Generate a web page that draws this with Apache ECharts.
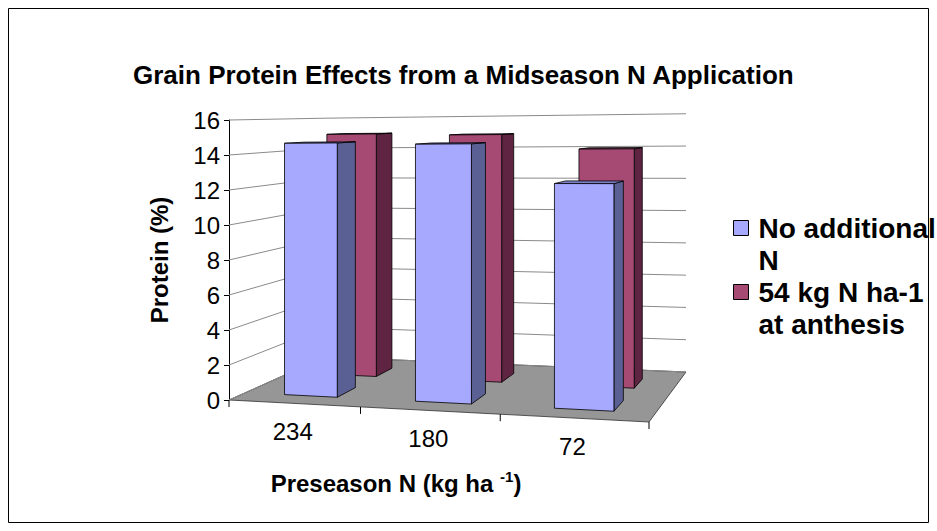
<!DOCTYPE html>
<html>
<head>
<meta charset="utf-8">
<script src="https://cdn.jsdelivr.net/npm/echarts@6/dist/echarts.min.js"></script>
<style>html,body{margin:0;padding:0;background:#fff}#c{width:937px;height:531px}</style>
</head>
<body>
<div id="c"></div>
<script>
// ---------------- data ----------------
const categories = ['234', '180', '72'];
const seriesNames = ['No additional N', '54 kg N ha-1 at anthesis'];
const noAdditionalN = [14.6, 14.5, 12.3];
const atAnthesis54 = [15.0, 14.9, 14.0];
const yTicks = [0, 2, 4, 6, 8, 10, 12, 14, 16];
const legendLabels = {'No additional N': 'No additional\nN', '54 kg N ha-1 at anthesis': '54 kg N ha-1\nat anthesis'};
const titleText = 'Grain Protein Effects from a Midseason N Application';
const yName = 'Protein (%)';

// ---------------- layout / style ----------------
const FONT = 'Liberation Sans, Arial, Helvetica, sans-serif';
const GRID = {left: 229, top: 120, width: 420, height: 280};
// floor quad corners: front-left, front-right, back-right, back-left
const FLOOR = [[229, 400], [649, 422], [686, 372], [325, 357]];
const ROWS = [{w0: 0.15, w1: 0.35}, {w0: 0.6, w1: 0.8}];
const BAR = {widthRatio: 0.41, shift: 0.005};
const COLORS = [
  {front: '#A6A9FD', side: '#5B6094', top: '#7C80C8'},
  {front: '#A64A74', side: '#5E2442', top: '#7F3457'}
];

function homography(q) {
  const [x0, y0] = q[0], [x1, y1] = q[1], [x2, y2] = q[2], [x3, y3] = q[3];
  const dx1 = x1 - x2, dx2 = x3 - x2, dx3 = x0 - x1 + x2 - x3;
  const dy1 = y1 - y2, dy2 = y3 - y2, dy3 = y0 - y1 + y2 - y3;
  const den = dx1 * dy2 - dx2 * dy1;
  const g = (dx3 * dy2 - dx2 * dy3) / den, h = (dx1 * dy3 - dx3 * dy1) / den;
  return {a: x1 - x0 + g * x1, b: x3 - x0 + h * x3, c: x0,
          d: y1 - y0 + g * y1, e: y3 - y0 + h * y3, f: y0, g: g, h: h};
}
const HM = homography(FLOOR);
function project(u, v, w, hgt) {
  const D = HM.g * u + HM.h * w + 1;
  const x = (HM.a * u + HM.b * w + HM.c) / D;
  const y = (HM.d * u + HM.e * w + HM.f) / D - v * hgt / D;
  return [x, y];
}

function barRenderer(rowIdx) {
  return function (params, api) {
    const cs = params.coordSys;
    const i = api.value(0), val = api.value(1);
    const p0 = api.coord([i, 0]), p1 = api.coord([i, val]);
    const band = api.size([1, 0])[0] / cs.width;
    const uc = (p0[0] - cs.x) / cs.width + BAR.shift;
    const hw = band * BAR.widthRatio / 2;
    const v = (p0[1] - p1[1]) / cs.height;
    const u0 = uc - hw, u1 = uc + hw, w0 = ROWS[rowIdx].w0, w1 = ROWS[rowIdx].w1;
    const P = (u, vv, w) => project(u, vv, w, cs.height);
    const c = COLORS[rowIdx];
    const stroke = {stroke: '#000', lineWidth: 0.8, lineJoin: 'round'};
    return {
      type: 'group',
      children: [
        {type: 'polygon', shape: {points: [P(u1, 0, w0), P(u1, 0, w1), P(u1, v, w1), P(u1, v, w0)]},
         style: Object.assign({fill: c.side}, stroke)},
        {type: 'polygon', shape: {points: [P(u0, v, w0), P(u1, v, w0), P(u1, v, w1), P(u0, v, w1)]},
         style: Object.assign({fill: c.top}, stroke)},
        {type: 'polygon', shape: {points: [P(u0, 0, w0), P(u1, 0, w0), P(u1, v, w0), P(u0, v, w0)]},
         style: Object.assign({fill: c.front}, stroke)}
      ]
    };
  };
}

const chart = echarts.init(document.getElementById('c'), null, {renderer: 'svg'});

const option = {
  animation: false,
  backgroundColor: '#ffffff',
  textStyle: {fontFamily: FONT},
  title: {
    text: titleText, left: 133, top: 62, padding: 0,
    textStyle: {fontSize: 26, fontWeight: 'bold', color: '#000', fontFamily: FONT}
  },
  legend: {
    data: seriesNames, orient: 'vertical', left: 733, top: 212, padding: 0,
    itemWidth: 15, itemHeight: 47, itemGap: 0,
    icon: 'path://M0,0L15,0L15,15L0,15Z M0,47L0,47',
    itemStyle: {borderColor: '#000', borderWidth: 1},
    selectedMode: false,
    formatter: function (n) { return legendLabels[n]; },
    textStyle: {fontSize: 28, fontWeight: 'bold', color: '#000', lineHeight: 32, padding: [0, 0, 0, 5], fontFamily: FONT}
  },
  grid: {left: GRID.left, top: GRID.top, width: GRID.width, height: GRID.height},
  xAxis: {
    type: 'category', data: categories,
    axisLine: {show: false}, axisTick: {show: false}, axisLabel: {show: false}, splitLine: {show: false},
    name: '{a|Preseason N (kg ha }{s|-1}{a|)}', nameLocation: 'middle', nameGap: 69,
    nameTextStyle: {
      padding: [0, 86, 0, 0],
      rich: {
        a: {fontSize: 24, fontWeight: 'bold', color: '#000', fontFamily: FONT, lineHeight: 28},
        s: {fontSize: 15, fontWeight: 'bold', color: '#000', fontFamily: FONT, verticalAlign: 'top', lineHeight: 15}
      }
    }
  },
  yAxis: {
    type: 'value', min: 0, max: 16, interval: 2,
    axisLine: {show: true, lineStyle: {color: '#000', width: 1}},
    axisTick: {show: true, length: 5, lineStyle: {color: '#000'}},
    axisLabel: {fontSize: 24, color: '#000', margin: 9, fontFamily: FONT},
    splitLine: {show: false},
    name: yName, nameLocation: 'middle', nameGap: 58, nameRotate: 90,
    nameTextStyle: {fontSize: 24, fontWeight: 'bold', color: '#000', fontFamily: FONT}
  },
  graphic: [{
    type: 'rect', silent: true, z: 100,
    shape: {x: 8.5, y: 8.5, width: 920, height: 514},
    style: {fill: 'none', stroke: '#000', lineWidth: 1}
  }],
  series: [
    {
      name: 'floor', type: 'custom', z: 1, silent: true,
      data: [[0, 0]],
      renderItem: function (params, api) {
        const cs = params.coordSys;
        const P = (u, v, w) => project(u, v, w, cs.height);
        const children = [{
          type: 'polygon',
          shape: {points: [P(0, 0, 0), P(1, 0, 0), P(1, 0, 1), P(0, 0, 1)]},
          style: {fill: '#969696', stroke: '#303030', lineWidth: 0.8}
        }];
        for (let k = 0; k <= categories.length; k++) {
          const p = P(k / categories.length, 0, 0);
          children.push({type: 'line', shape: {x1: p[0], y1: p[1], x2: p[0], y2: p[1] + 7},
            style: {stroke: '#000', lineWidth: 1}});
        }
        return {type: 'group', children: children};
      }
    },
    {
      name: 'walls', type: 'custom', z: 2, silent: true,
      data: yTicks.map(t => [0, t]),
      renderItem: function (params, api) {
        const cs = params.coordSys;
        const y = api.coord([0, api.value(1)])[1];
        const v = (cs.y + cs.height - y) / cs.height;
        const P = (u, vv, w) => project(u, vv, w, cs.height);
        return {
          type: 'polyline',
          shape: {points: [P(0, v, 0), P(0, v, 1), P(1, v, 1)]},
          style: {stroke: '#8a8a8a', lineWidth: 1, fill: 'none'}
        };
      }
    },
    {
      name: seriesNames[1], type: 'custom', z: 3,
      itemStyle: {color: COLORS[1].front},
      data: atAnthesis54.map((v, i) => [i, v]),
      renderItem: barRenderer(1)
    },
    {
      name: seriesNames[0], type: 'custom', z: 4,
      itemStyle: {color: COLORS[0].front},
      data: noAdditionalN.map((v, i) => [i, v]),
      renderItem: barRenderer(0)
    },
    {
      name: 'categoryLabels', type: 'custom', z: 5, silent: true,
      data: categories.map((c, i) => [i, 0]),
      renderItem: function (params, api) {
        const cs = params.coordSys;
        const i = api.value(0);
        const p0 = api.coord([i, 0]);
        const u = (p0[0] - cs.x) / cs.width;
        const p = project(u, 0, 0, cs.height);
        return {
          type: 'text',
          style: {text: categories[i], x: p[0] - 1, y: p[1] + 28, align: 'center', verticalAlign: 'middle',
                  fontSize: 24, fontFamily: FONT, fill: '#000'}
        };
      }
    }
  ]
};
chart.setOption(option);
</script>
</body>
</html>
